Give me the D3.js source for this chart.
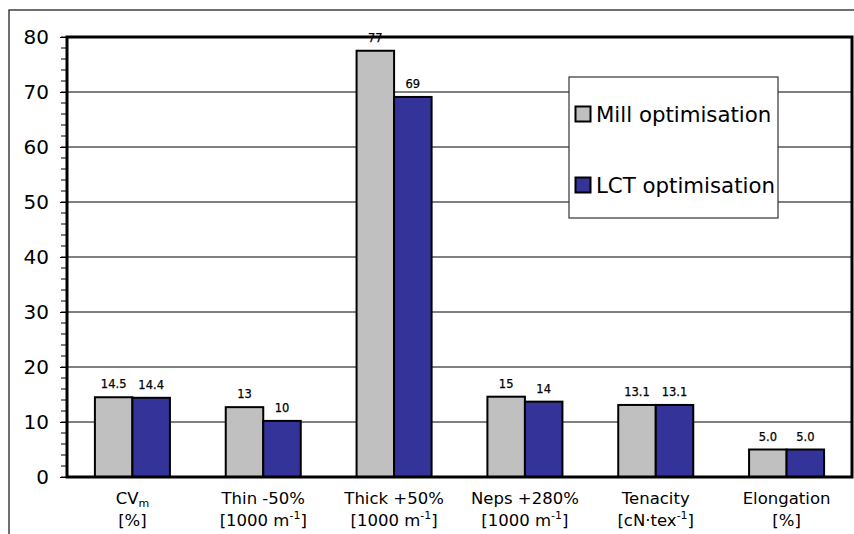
<!DOCTYPE html>
<html><head><meta charset="utf-8">
<script src="https://cdn.jsdelivr.net/npm/d3@7"></script>
<style>body{margin:0;background:#fff;}svg{display:block;font-family:"DejaVu Sans",Verdana,sans-serif;}</style>
</head><body>
<svg id="c" width="854" height="534"></svg>
<script>
const categories = ["CVm","Thin -50%","Thick +50%","Neps +280%","Tenacity","Elongation"];
const series = ["Mill optimisation","LCT optimisation"];
const millValues = [14.5, 12.7, 77.5, 14.6, 13.1, 5.0];
const lctValues  = [14.4, 10.2, 69.1, 13.7, 13.1, 5.0];
const millLabels = ["14.5","13","77","15","13.1","5.0"];
const lctLabels  = ["14.4","10","69","14","13.1","5.0"];
const yTicks = [0,10,20,30,40,50,60,70,80];
const colors = ["#c0c0c0","#333399"];

const svg = d3.select("#c");
const L=67, R=852, T=37, B=477;
const x0 = d3.scaleBand().domain(categories).range([L,R]).padding(0);
const x1 = d3.scaleBand().domain(series).range([0,x0.bandwidth()]).paddingInner(0).paddingOuter(0.744);
const y = d3.scaleLinear().domain([0,80]).range([B,T]);

// outer frame
svg.append("rect").attr("x",9).attr("y",10).attr("width",900).attr("height",600)
  .attr("fill","none").attr("stroke","#222").attr("stroke-width",1.3);

// gridlines
svg.append("g").selectAll("line").data(yTicks.filter(t=>t>0&&t<80)).join("line")
  .attr("x1",L).attr("x2",R).attr("y1",d=>y(d)).attr("y2",d=>y(d))
  .attr("stroke","#000").attr("stroke-width",1);

// y axis minor ticks
const minor = d3.range(0,81,2);
svg.append("g").selectAll("line").data(minor).join("line")
  .attr("x1",L-6).attr("x2",L).attr("y1",d=>y(d)).attr("y2",d=>y(d))
  .attr("stroke","#000").attr("stroke-width",1);
// y axis
const yAxis = d3.axisLeft(y).tickValues(yTicks).tickSize(7).tickPadding(11).tickFormat(d3.format("d"));
const gy = svg.append("g").attr("transform",`translate(${L},0)`).call(yAxis);
gy.select(".domain").remove();
gy.selectAll("text").attr("font-size",20).attr("font-family","DejaVu Sans").attr("fill","#000");
gy.selectAll("line").attr("stroke","#000");

// bars
const data = categories.map((c,i)=>({c, v:[millValues[i],lctValues[i]], l:[millLabels[i],lctLabels[i]]}));
const grp = svg.append("g").selectAll("g").data(data).join("g")
  .attr("transform",d=>`translate(${x0(d.c)},0)`);
grp.selectAll("rect").data(d=>series.map((s,j)=>({s,v:d.v[j],j}))).join("rect")
  .attr("x",d=>x1(d.s)).attr("width",x1.bandwidth())
  .attr("y",d=>y(d.v)).attr("height",d=>B-y(d.v))
  .attr("fill",d=>colors[d.j]).attr("stroke","#000").attr("stroke-width",2);

// plot frame (thick)
svg.append("path").attr("d",`M${L},${T}H${R}V${B}H${L}Z`).attr("fill","none")
  .attr("stroke","#000").attr("stroke-width",3);

// value labels
const lab = grp.selectAll("g.lab").data(d=>series.map((s,j)=>({s,v:d.v[j],l:d.l[j]}))).join("g").attr("class","lab");
lab.each(function(d){
  const g=d3.select(this);
  const cx = x1(d.s)+x1.bandwidth()/2;
  const t = g.append("text").attr("x",cx).attr("y",y(d.v)-9).attr("text-anchor","middle")
    .attr("font-size",11.5).attr("fill","#000").attr("stroke","#000").attr("stroke-width",0.25).text(d.l);
  const bb = t.node().getBBox();
  g.insert("rect","text").attr("x",bb.x-2).attr("y",bb.y).attr("width",bb.width+4).attr("height",bb.height).attr("fill","#fff");
});

// x labels
const xlab = svg.append("g").attr("font-size",16.5).attr("fill","#000");
function addLabel(cx, line1, line2){
  const t1 = xlab.append("text").attr("x",cx).attr("y",504).attr("text-anchor","middle");
  line1.forEach(p=>{
    const s=t1.append("tspan").text(p[0]);
    if(p[1]===-1){s.attr("font-size",11).attr("dy",3);}
  });
  const t2 = xlab.append("text").attr("x",cx).attr("y",526).attr("text-anchor","middle");
  line2.forEach(p=>{
    const s=t2.append("tspan").text(p[0]);
    if(p[1]===1){s.attr("font-size",11).attr("dy",-7);}
    if(p[1]===2){s.attr("dy",7);}
  });
}
const cxs = categories.map(c=>x0(c)+x0.bandwidth()/2);
addLabel(cxs[0],[["CV",0],["m",-1]],[["[%]",0]]);
addLabel(cxs[1],[["Thin -50%",0]],[["[1000 m",0],["-1",1],["]",2]]);
addLabel(cxs[2],[["Thick +50%",0]],[["[1000 m",0],["-1",1],["]",2]]);
addLabel(cxs[3],[["Neps +280%",0]],[["[1000 m",0],["-1",1],["]",2]]);
addLabel(cxs[4],[["Tenacity",0]],[["[cN·tex",0],["-1",1],["]",2]]);
addLabel(cxs[5],[["Elongation",0]],[["[%]",0]]);

// legend
const lg = svg.append("g");
lg.append("rect").attr("x",569).attr("y",77).attr("width",209).attr("height",141)
  .attr("fill","#fff").attr("stroke","#333").attr("stroke-width",1.2);
const ly = [122,193];
series.forEach((s,i)=>{
  lg.append("rect").attr("x",575.5).attr("y",ly[i]-15.5).attr("width",15).attr("height",15)
    .attr("fill",colors[i]).attr("stroke","#000").attr("stroke-width",2);
  lg.append("text").attr("x",596).attr("y",ly[i]).attr("font-size",21.3).attr("fill","#000").text(s);
});
</script>
</body></html>
